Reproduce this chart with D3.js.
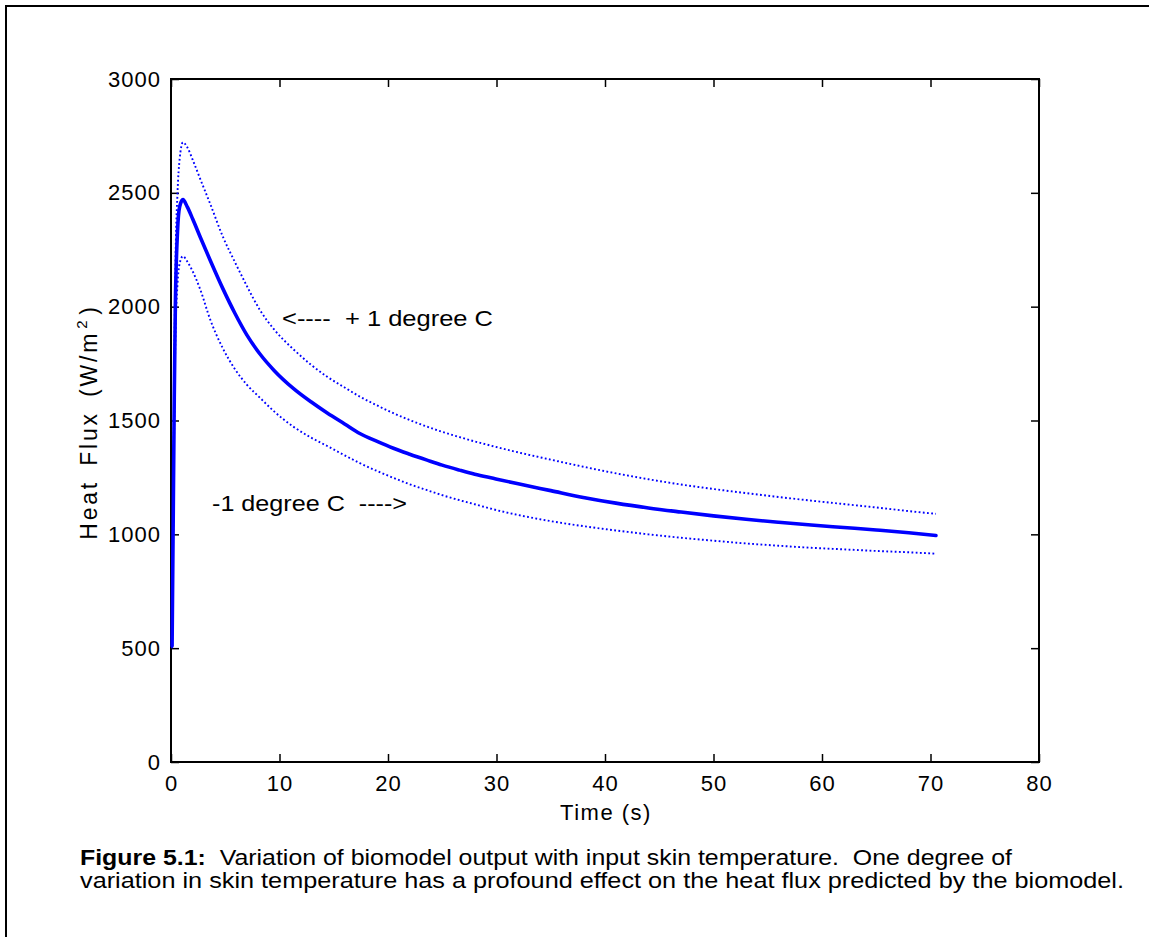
<!DOCTYPE html>
<html>
<head>
<meta charset="utf-8">
<script src="https://cdn.jsdelivr.net/npm/d3@7"></script>
<style>
  body { margin: 0; background: #fff; }
  text { font-family: "Liberation Sans", Arial, Helvetica, sans-serif; fill: #000; }
</style>
</head>
<body>
<svg id="chart" width="1149" height="937"></svg>
<script>
// Time (s) at which the heat flux was sampled
const timeS = [0.1, 0.2, 0.3, 0.4, 0.6, 0.8, 1.1, 1.5, 2, 2.7, 3.6, 4.8, 5.9, 7, 8.2, 9.5,
  11.3, 12.9, 14.4, 16, 17.4, 19, 20.5, 22, 23.6, 25, 26.6, 28, 29.7, 32, 35, 38, 41, 44,
  47, 50, 53, 56, 59, 62, 65, 68, 70.5];

// Heat flux (W/m^2) at the nominal skin temperature
const fluxNominal = [510, 1050, 1600, 2000, 2330, 2440, 2470, 2438, 2385, 2305, 2205, 2077,
  1970, 1875, 1792, 1720, 1640, 1582, 1533, 1485, 1443, 1408, 1378, 1352, 1326, 1304, 1282,
  1264, 1246, 1222, 1192, 1162, 1137, 1116, 1098, 1081, 1066, 1053, 1041, 1030, 1019, 1007, 995];

// Heat flux with skin temperature raised by one degree
const fluxPlus1 = [520, 1100, 1700, 2150, 2500, 2650, 2722, 2700, 2645, 2560, 2453, 2305,
  2195, 2090, 1985, 1900, 1812, 1745, 1692, 1645, 1605, 1566, 1532, 1502, 1473, 1450, 1427,
  1408, 1387, 1360, 1328, 1297, 1268, 1242, 1219, 1199, 1181, 1164, 1148, 1133, 1118, 1102, 1090];

// Heat flux with skin temperature lowered by one degree
const fluxMinus1 = [500, 1000, 1500, 1850, 2100, 2190, 2222, 2198, 2155, 2075, 1945, 1815,
  1725, 1657, 1600, 1540, 1472, 1425, 1388, 1347, 1313, 1278, 1248, 1220, 1194, 1172, 1150,
  1132, 1110, 1085, 1058, 1036, 1017, 1000, 985, 972, 960, 950, 941, 934, 927, 921, 915];

const xTicks = [0, 10, 20, 30, 40, 50, 60, 70, 80];
const yTicks = [0, 500, 1000, 1500, 2000, 2500, 3000];

const svg = d3.select("#chart");
const box = { left: 171, top: 79, right: 1039, bottom: 762 };

// Outer figure border (only its top and left edges fall inside the page)
svg.append("rect")
  .attr("x", 6).attr("y", 6).attr("width", 1200).attr("height", 1000)
  .attr("fill", "none").attr("stroke", "#000").attr("stroke-width", 2);

const x = d3.scaleLinear().domain([0, 80]).range([box.left, box.right]);
const y = d3.scaleLinear().domain([0, 3000]).range([box.bottom, box.top]);

const fontSize = 22;
function styleAxis(g) {
  g.select(".domain").remove();
  g.selectAll(".tick line").attr("stroke", "#000").attr("stroke-width", 1.5);
  g.selectAll(".tick text")
    .attr("font-size", fontSize)
    .attr("font-family", "'Liberation Sans', Arial, sans-serif")
    .attr("letter-spacing", 1)
    .attr("fill", "#000");
}

svg.append("g").attr("transform", `translate(0,${box.bottom})`)
  .call(d3.axisBottom(x).tickValues(xTicks).tickSize(-8).tickPadding(13).tickFormat(d3.format("d")))
  .call(styleAxis);
svg.append("g").attr("transform", `translate(0,${box.top})`)
  .call(d3.axisTop(x).tickValues(xTicks).tickSize(-8).tickFormat(""))
  .call(styleAxis);
svg.append("g").attr("transform", `translate(${box.left},0)`)
  .call(d3.axisLeft(y).tickValues(yTicks).tickSize(-8).tickPadding(10).tickFormat(d3.format("d")))
  .call(styleAxis);
svg.append("g").attr("transform", `translate(${box.right},0)`)
  .call(d3.axisRight(y).tickValues(yTicks).tickSize(-8).tickFormat(""))
  .call(styleAxis);

// Axes box
svg.append("rect")
  .attr("x", box.left).attr("y", box.top)
  .attr("width", box.right - box.left).attr("height", box.bottom - box.top)
  .attr("fill", "none").attr("stroke", "#000").attr("stroke-width", 2);

const line = d3.line().curve(d3.curveMonotoneX)
  .x((d, i) => x(timeS[i]))
  .y(d => y(d));

[fluxPlus1, fluxMinus1].forEach(series => {
  svg.append("path").datum(series).attr("d", line)
    .attr("fill", "none").attr("stroke", "#0000ff").attr("stroke-width", 1.9)
    .attr("stroke-dasharray", "1.8,2.4");
});
svg.append("path").datum(fluxNominal).attr("d", line)
  .attr("fill", "none").attr("stroke", "#0000ff").attr("stroke-width", 3.6)
  .attr("stroke-linejoin", "round").attr("stroke-linecap", "round");

// Curve annotations
svg.append("text").attr("x", 282).attr("y", 326).attr("font-size", fontSize)
  .attr("xml:space", "preserve")
  .attr("textLength", 211).attr("lengthAdjust", "spacingAndGlyphs")
  .text("<----  + 1 degree C");
svg.append("text").attr("x", 212).attr("y", 511).attr("font-size", fontSize)
  .attr("xml:space", "preserve")
  .attr("textLength", 195).attr("lengthAdjust", "spacingAndGlyphs")
  .text("-1 degree C  ---->");

// Axis titles
svg.append("text").attr("x", 606).attr("y", 820)
  .attr("text-anchor", "middle").attr("font-size", fontSize).attr("letter-spacing", 1.5)
  .text("Time (s)");

const yl = svg.append("text")
  .attr("transform", `translate(97,422) rotate(-90)`)
  .attr("text-anchor", "middle").attr("font-size", 23)
  .attr("letter-spacing", 2.8).attr("word-spacing", 5);
yl.append("tspan").text("Heat Flux (W/m");
yl.append("tspan").attr("font-size", 15).attr("dx", 2).attr("dy", -10).text("2");
yl.append("tspan").attr("dx", 3).attr("dy", 10).text(")");

// Figure caption
const cap1 = svg.append("text").attr("x", 80).attr("y", 865).attr("font-size", fontSize)
  .attr("xml:space", "preserve")
  .attr("textLength", 932).attr("lengthAdjust", "spacingAndGlyphs");
cap1.append("tspan").attr("font-weight", "bold").text("Figure 5.1:");
cap1.append("tspan").text("  Variation of biomodel output with input skin temperature.  One degree of");
svg.append("text").attr("x", 80).attr("y", 888).attr("font-size", fontSize)
  .attr("textLength", 1044).attr("lengthAdjust", "spacingAndGlyphs")
  .text("variation in skin temperature has a profound effect on the heat flux predicted by the biomodel.");
</script>
</body>
</html>
